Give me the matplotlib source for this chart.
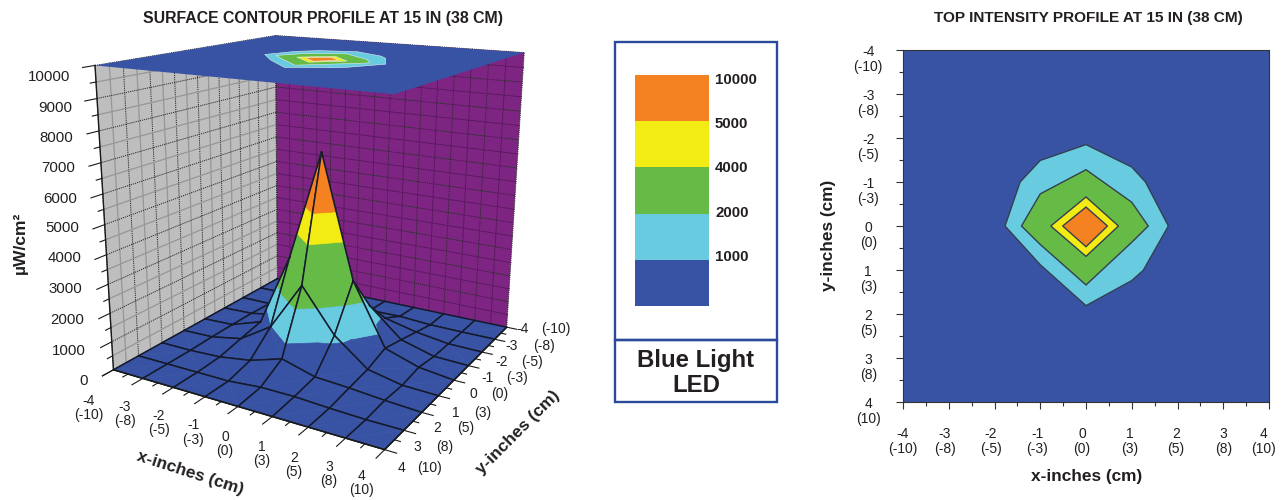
import numpy as np
import matplotlib
matplotlib.use('Agg')
import matplotlib.pyplot as plt
from matplotlib.patches import Rectangle
from matplotlib.transforms import ScaledTranslation
from mpl_toolkits.mplot3d.art3d import Poly3DCollection

plt.rcParams['font.family'] = ['Liberation Sans', 'DejaVu Sans']

# ---------- data ----------
grid_inches = [-4, -3, -2, -1, 0, 1, 2, 3, 4]
grid_cm = [-10, -8, -5, -3, 0, 3, 5, 8, 10]
intensity_y_m4 = [0, 0, 0, 0, 0, 0, 0, 0, 0]
intensity_y_m3 = [0, 0, 0, 30, 60, 80, 10, 0, 0]
intensity_y_m2 = [0, 0, 100, 300, 580, 460, 190, 20, 0]
intensity_y_m1 = [0, 40, 245, 1570, 2400, 1380, 370, 40, 0]
intensity_y_0 = [0, 40, 420, 3100, 6950, 2700, 540, 150, 0]
intensity_y_p1 = [0, 30, 240, 960, 2700, 1200, 290, 40, 0]
intensity_y_p2 = [0, 0, 50, 220, 570, 240, 170, 70, 0]
intensity_y_p3 = [0, 0, 0, 0, 100, 100, 40, 0, 0]
intensity_y_p4 = [0, 0, 0, 0, 0, 0, 0, 0, 0]

band_levels = [0, 1000, 2000, 4000, 5000, 10000]
band_colors = ['#3953A4', '#69CBE0', '#66BB46', '#F2EB14', '#F58220']
band_labels = ['1000', '2000', '4000', '5000', '10000']
z_ticks = [0, 1000, 2000, 3000, 4000, 5000, 6000, 7000, 8000, 9000, 10000]

contour_1000_x = [0, 1.0, 1.30, 1.80, 1.25, 1.0, 0, -1.0, -1.77, -1.44, -1.0]
contour_1000_y = [-1.85, -1.34, -1.0, 0, 1.01, 1.24, 1.81, 0.88, 0, -1.0, -1.49]
contour_2000_x = [0, 1.0, 1.36, 1.0, 0, -1.0, -1.41, -1.0]
contour_2000_y = [-1.28, -0.54, 0, 0.37, 1.34, 0.42, 0, -0.73]
contour_4000_x = [0, 0.71, 0, -0.77]
contour_4000_y = [-0.66, 0, 0.69, 0]
contour_5000_x = [0, 0.47, 0, -0.51]
contour_5000_y = [-0.43, 0, 0.47, 0]

# ---------- styles ----------
W, H = 1285, 500
INK = '#231F20'
GREY_WALL = '#BEBEBE'
PURPLE_WALL = '#7E2583'
FRAME = '#2B4A9B'
BLUE = band_colors[0]
TICK_SIZE = 10.0
TITLE_SIZE = 12.4
LINE_SP = 1.08


def fx(px):
    return px / W


def fy(py):
    return 1 - py / H


fig = plt.figure(figsize=(W / 100, H / 100), dpi=100, facecolor='white')


def label(px, py, s, size=TICK_SIZE, weight='normal', **kw):
    kw.setdefault('ha', 'center')
    kw.setdefault('va', 'center')
    fig.text(fx(px), fy(py), s, fontsize=size, fontweight=weight, color=INK, **kw)


# ---------- 3-D panel ----------
S_SCALE, S_X0, S_Y0 = 2725.48, 321.28, 209.29
ax3 = fig.add_axes([0, 0, 0.4, 1], projection='3d', computed_zorder=False)
x0, y0, x1, y1 = ax3.viewLim.extents
left = S_X0 + x0 * S_SCALE
right = S_X0 + x1 * S_SCALE
top = S_Y0 - y1 * S_SCALE
bottom = S_Y0 - y0 * S_SCALE
ax3.set_position([fx(left), fy(bottom), (right - left) / W, (bottom - top) / H])
ax3.patch.set_alpha(0)
ax3.set_axis_off()
ax3.view_init(elev=16.248, azim=-60.028, roll=-0.306)
ax3.set_proj_type('persp', focal_length=0.35304)
ax3.set_box_aspect((1, 1.00717, 1.00496))
ax3.set_xlim(-4, 4)
ax3.set_ylim(4, -4)
ax3.set_zlim(0, 10000)

ZMAX = z_ticks[-1]
XMIN, XMAX = grid_inches[0], grid_inches[-1]

# walls
ax3.add_collection3d(Poly3DCollection(
    [[(XMIN, XMIN, 0), (XMIN, XMAX, 0), (XMIN, XMAX, ZMAX), (XMIN, XMIN, ZMAX)]],
    facecolors=GREY_WALL, edgecolors='none', zorder=1), autolim=False)
ax3.add_collection3d(Poly3DCollection(
    [[(XMIN, XMIN, 0), (XMAX, XMIN, 0), (XMAX, XMIN, ZMAX), (XMIN, XMIN, ZMAX)]],
    facecolors=PURPLE_WALL, edgecolors='none', zorder=1), autolim=False)

half_steps = np.arange(XMIN, XMAX + 0.25, 0.5)
z_steps = np.arange(0, ZMAX + 1, 500)
major_style = dict(color='#2a2a2a', lw=0.7, ls=(0, (1.2, 1.0)))
for v in half_steps:
    major = float(v).is_integer()
    grey_style = major_style if major else dict(color='#969696', lw=0.9)
    purple_style = major_style if major else dict(color='#5b1a60', lw=0.7)
    ax3.plot([XMIN, XMIN], [v, v], [0, ZMAX], zorder=2, **grey_style)
    ax3.plot([v, v], [XMIN, XMIN], [0, ZMAX], zorder=2, **purple_style)
for z in z_steps:
    major = z % 1000 == 0
    grey_style = major_style if major else dict(color='#969696', lw=0.9)
    purple_style = major_style if major else dict(color='#5b1a60', lw=0.7)
    ax3.plot([XMIN, XMIN], [XMIN, XMAX], [z, z], zorder=2, **grey_style)
    ax3.plot([XMIN, XMAX], [XMIN, XMIN], [z, z], zorder=2, **purple_style)


def clip_band(tri, lo, hi):
    def clip(points, level, keep_above):
        out = []
        n = len(points)
        for i in range(n):
            p, q = points[i], points[(i + 1) % n]
            pin = p[2] >= level if keep_above else p[2] <= level
            qin = q[2] >= level if keep_above else q[2] <= level
            if pin:
                out.append(p)
            if pin != qin:
                t = (level - p[2]) / (q[2] - p[2])
                out.append(tuple(p[k] + t * (q[k] - p[k]) for k in range(3)))
        return out
    return clip(clip(list(tri), lo, True), hi, False)


Z = np.array([intensity_y_m4, intensity_y_m3, intensity_y_m2, intensity_y_m1, intensity_y_0,
              intensity_y_p1, intensity_y_p2, intensity_y_p3, intensity_y_p4], float)
xs = np.array(grid_inches, float)
ys = np.array(grid_inches, float)
cells = sorted(((i, j) for i in range(8) for j in range(8)), key=lambda c: (c[0] + c[1], c[0]))
order = 10
for i, j in cells:
    a = (xs[i], ys[j], Z[j, i])
    b = (xs[i + 1], ys[j], Z[j, i + 1])
    c = (xs[i + 1], ys[j + 1], Z[j + 1, i + 1])
    d = (xs[i], ys[j + 1], Z[j + 1, i])
    # split each cell along its flatter diagonal
    if abs(a[2] - c[2]) < abs(b[2] - d[2]):
        tris = ((a, b, c), (a, c, d))
    else:
        tris = ((a, b, d), (b, c, d))
    verts, cols = [], []
    for tri in tris:
        for k, col in enumerate(band_colors):
            poly = clip_band(tri, band_levels[k], band_levels[k + 1])
            if len(poly) >= 3:
                verts.append(poly)
                cols.append(col)
    ax3.add_collection3d(Poly3DCollection(verts, facecolors=cols, edgecolors=cols,
                                          linewidths=0.5, zorder=order), autolim=False)
    loop = [a, b, c, d, a]
    ax3.plot(*zip(*loop), color='#141a2b', lw=1.1, zorder=order + 0.5, solid_joinstyle='round')
    order += 1

# top plane and its contour map
ax3.add_collection3d(Poly3DCollection(
    [[(XMIN, XMIN, ZMAX), (XMAX, XMIN, ZMAX), (XMAX, XMAX, ZMAX), (XMIN, XMAX, ZMAX)]],
    facecolors=BLUE, edgecolors='none', zorder=200), autolim=False)
contours = [(contour_1000_x, contour_1000_y), (contour_2000_x, contour_2000_y),
            (contour_4000_x, contour_4000_y), (contour_5000_x, contour_5000_y)]
for n, (cx, cy) in enumerate(contours):
    poly = [(u, v, ZMAX) for u, v in zip(cx, cy)]
    ax3.add_collection3d(Poly3DCollection([poly], facecolors=band_colors[n + 1],
                                          edgecolors='#dfe9f2', linewidths=0.4,
                                          zorder=201 + n), autolim=False)

# box edges and ticks
edge = dict(color='#1a1a1a', lw=1.0, zorder=190)
ax3.plot([XMIN, XMIN], [XMAX, XMAX], [0, ZMAX], **edge)
ax3.plot([XMIN, XMAX], [XMAX, XMAX], [0, 0], **edge)
ax3.plot([XMAX, XMAX], [XMAX, XMIN], [0, 0], **edge)
tick = dict(color='#1a1a1a', lw=0.8, zorder=190)
for z in z_steps:
    ln = 0.42 if z % 1000 == 0 else 0.2
    ax3.plot([XMIN, XMIN], [XMAX, XMAX + ln], [z, z], **tick)
for v in half_steps:
    major = float(v).is_integer()
    ln = 0.42 if major else 0.2
    ax3.plot([v, v], [XMAX, XMAX + ln], [0, 0], **tick)
    ln = 0.3 if major else 0.15
    ax3.plot([XMAX, XMAX + ln], [v, v], [0, 0], **tick)

# ----- 3-D panel text
label(323, 18, 'SURFACE CONTOUR PROFILE AT 15 IN (38 CM)', size=11.4, weight='bold')
z_right = [88, 86, 84, 82, 81, 79, 77, 75, 73, 72, 70]
z_center = [381, 351, 320, 289, 258, 228, 199, 168, 138, 108, 77]
for v, xr, yc in zip(z_ticks, z_right, z_center):
    label(xr, yc, str(v), size=10.8, ha='right')
x_label_x = [89, 125, 159, 193, 225, 262, 294, 329, 362]
x_label_y = [408, 414, 423, 432.5, 444, 454, 465, 474, 483]
for a_in, a_cm, px, py in zip(grid_inches, grid_cm, x_label_x, x_label_y):
    label(px, py, f'{a_in}\n({a_cm})', linespacing=LINE_SP, multialignment='center')
y_in_x = [523, 512, 502, 487, 473, 456, 437, 417, 402]
y_cm_x = [556, 544, 532, 517, 500, 483, 466, 445, 430]
y_lab_y = [329, 346, 362, 378, 394, 413, 428, 447, 468]
for a_in, a_cm, p1, p2, py in zip(grid_inches, grid_cm, y_in_x, y_cm_x, y_lab_y):
    label(p1, py, str(a_in))
    label(p2, py, f'({a_cm})')
label(190, 473, 'x-inches (cm)', size=TITLE_SIZE, weight='bold', rotation=-18, rotation_mode='anchor')
label(518, 432, 'y-inches (cm)', size=TITLE_SIZE, weight='bold', rotation=45, rotation_mode='anchor')
label(20, 243, 'µW/cm²', size=12.6, weight='bold', rotation=90)

# ---------- legend ----------
for (px0, py0, px1, py1) in [(615, 42, 777, 340), (615, 340, 777, 402)]:
    fig.add_artist(Rectangle((fx(px0), fy(py1)), (px1 - px0) / W, (py1 - py0) / H,
                             transform=fig.transFigure, fill=False, edgecolor=FRAME, lw=1.7))
ax_leg = fig.add_axes([fx(635), fy(306), 74 / W, 231 / H])
ax_leg.bar([0] * 5, [1] * 5, bottom=range(5), width=1, color=band_colors, linewidth=0)
ax_leg.set_xlim(-0.5, 0.5)
ax_leg.set_ylim(0, 5)
ax_leg.axis('off')
for txt, yc in zip(band_labels[::-1], [80, 124, 168, 213, 257]):
    label(715, yc, txt, size=10.8, weight='bold', ha='left')
label(696, 360, 'Blue Light', size=17.3, weight='bold')
label(696, 386, 'LED', size=17.3, weight='bold')

# ---------- top view ----------
ax2 = fig.add_axes([fx(903), fy(402), 366 / W, 352 / H])
ax2.set_facecolor(BLUE)
for n, (cx, cy) in enumerate(contours):
    ax2.fill(cx, cy, facecolor=band_colors[n + 1], edgecolor='#33404f', lw=1.0)
ax2.set_xlim(-4, 4)
ax2.set_ylim(4, -4)
for sp in ax2.spines.values():
    sp.set_color('#333333')
    sp.set_linewidth(0.8)
pair_labels = [f'{a}\n({b})' for a, b in zip(grid_inches, grid_cm)]
ax2.set_xticks(grid_inches)
ax2.set_yticks(grid_inches)
ax2.set_xticks(np.arange(-3.5, 4, 1), minor=True)
ax2.set_yticks(np.arange(-3.5, 4, 1), minor=True)
ax2.set_xticklabels(pair_labels, fontsize=TICK_SIZE, color=INK, linespacing=LINE_SP, multialignment='center')
ax2.set_yticklabels(pair_labels, fontsize=TICK_SIZE, color=INK, linespacing=LINE_SP, multialignment='center', ha='center', va='center')
ax2.tick_params(axis='both', which='major', length=5, width=0.8, color='#333333')
ax2.tick_params(axis='both', which='minor', length=2.6, width=0.8, color='#333333')
ax2.tick_params(axis='x', which='major', pad=13)
ax2.tick_params(axis='y', which='major', pad=20)
x_shift_px = [0, -4, -3.5, -3, -4, -2, -1.5, 0, -5]
for lab, dx in zip(ax2.get_xticklabels(), x_shift_px):
    lab.set_transform(lab.get_transform() + ScaledTranslation(dx * 0.01, 0, fig.dpi_scale_trans))
for lab in ax2.get_yticklabels():
    lab.set_transform(lab.get_transform() + ScaledTranslation(0, -9.5 * 0.01, fig.dpi_scale_trans))
label(1088, 18, 'TOP INTENSITY PROFILE AT 15 IN (38 CM)', size=11.1, weight='bold')
label(1087, 476, 'x-inches (cm)', size=TITLE_SIZE, weight='bold')
label(829, 235, 'y-inches (cm)', size=TITLE_SIZE, weight='bold', rotation=90)

fig.savefig('out.png', dpi=100, facecolor='white')
